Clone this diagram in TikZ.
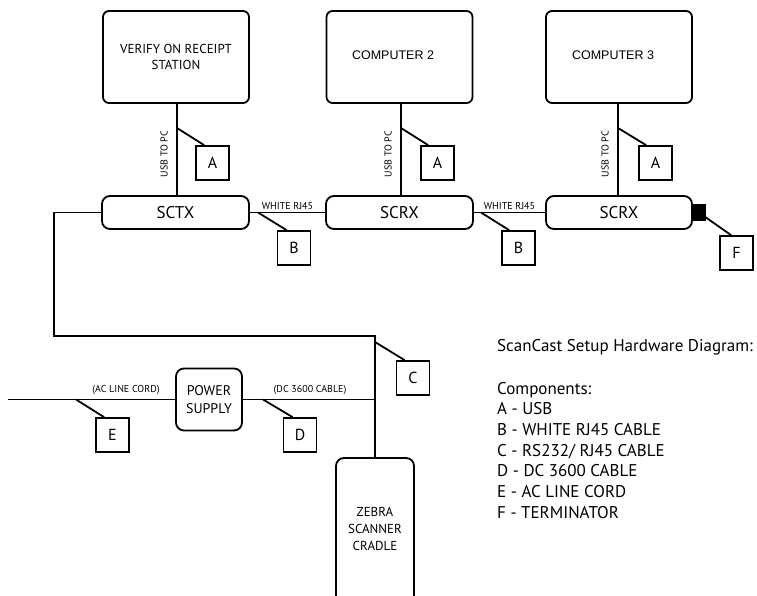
\documentclass[tikz,border=0pt]{standalone}
\usepackage{fontspec}
\setmainfont{PT Sans}
\newfontfamily\arialf{Liberation Sans}
\usetikzlibrary{calc}
\tikzset{
  ln/.style={line width=1.8pt, black},
  pcbox/.style={draw, line width=1.8pt, rounded corners=6pt, minimum width=146pt, minimum height=92pt, inner sep=0pt, align=center},
  scbox/.style={draw, line width=1.8pt, rounded corners=8pt, minimum width=147pt, minimum height=33pt, inner sep=0pt, font=\fontsize{17}{20}\selectfont},
  tagbox/.style={draw, line width=1.6pt, minimum width=33pt, minimum height=34pt, inner sep=0pt, font=\fontsize{16}{18}\selectfont},
  cable/.style={font=\fontsize{10}{12}\selectfont, inner sep=1pt},
  usb/.style={font=\fontsize{10}{12}\selectfont, rotate=90, inner sep=0pt},
  legend/.style={font=\fontsize{17}{20}\selectfont, anchor=base west, inner sep=0pt},
}
\begin{document}
\begin{tikzpicture}[x=1pt,y=-1pt]
\clip (0,0) rectangle (757,595);
\fill[white] (0,0) rectangle (757,595);
% computers
\node[pcbox, font=\fontsize{13}{16}\selectfont] (pc1) at (176,57) {VERIFY ON RECEIPT\\STATION};
\node[pcbox] (pc2) at (399.5,57) {};
\node[font=\arialf\fontsize{12.5}{14}\selectfont] (pc2t) at (393,55) {COMPUTER 2};
\node[pcbox] (pc3) at (619,57) {};
\node[font=\arialf\fontsize{12.5}{14}\selectfont] (pc3t) at (613,55) {COMPUTER 3};
% SC units
\node[scbox] (sctx) at (175.5,212.5) {SCTX};
\node[scbox] (scrx1) at (399.5,212.5) {SCRX};
\node[scbox, minimum width=146pt] (scrx2) at (619,212.5) {SCRX};
\node[fill=black, draw=black, minimum width=14pt, minimum height=16pt, inner sep=0pt] (term) at (698,212) {};
% tag boxes
\node[tagbox] (A1) at (212.5,163) {A};
\node[tagbox] (A2) at (437.5,163) {A};
\node[tagbox] (A3) at (655.5,163) {A};
\node[tagbox] (B1) at (294,248) {B};
\node[tagbox] (B2) at (518.5,248) {B};
\node[tagbox] (F) at (736.5,253) {F};
\node[tagbox] (C) at (413,378) {C};
\node[tagbox] (E) at (112.5,435) {E};
\node[tagbox] (D) at (300,435) {D};
% power supply and cradle
\node[draw, line width=1.8pt, rounded corners=8pt, minimum width=66pt, minimum height=62pt, inner sep=0pt, align=center, font=\fontsize{14}{18}\selectfont] (ps) at (209,399.5) {POWER\\SUPPLY};
\node[draw, line width=1.8pt, rounded corners=8pt, minimum width=78pt, minimum height=160pt, inner sep=0pt,
  label={[align=center, font=\fontsize{13}{17}\selectfont, yshift=9pt]center:ZEBRA\\SCANNER\\CRADLE}] (cradle) at (375,538) {};
% vertical USB lines
\draw[ln] (pc1.south -| 177,0) -- (sctx.north -| 177,0);
\draw[ln] (pc2.south -| 401,0) -- (scrx1.north -| 401,0);
\draw[ln] (pc3.south -| 618,0) -- (scrx2.north -| 618,0);
\node[usb] (u1) at (164,154) {USB TO PC};
\node[usb] (u2) at (388,154) {USB TO PC};
\node[usb] (u3) at (605,154) {USB TO PC};
\coordinate (ta1) at (177,128);
\coordinate (ta2) at (401,128);
\coordinate (ta3) at (618,128);
\draw[ln] (ta1) -- ($(A1.north west)+(9,0)$);
\draw[ln] (ta2) -- ($(A2.north west)+(8,0)$);
\draw[ln] (ta3) -- ($(A3.north west)+(8,0)$);
% RJ45 links
\draw[ln] (sctx.east) -- node[cable, anchor=south, yshift=1pt] (w1) {WHITE RJ45} (scrx1.west);
\draw[ln] (scrx1.east) -- node[cable, anchor=south, yshift=1pt] (w2) {WHITE RJ45} (scrx2.west);
\coordinate (tb1) at (258,212.5);
\coordinate (tb2) at (481,212.5);
\draw[ln] (tb1) -- ($(B1.north west)+(10,0)$);
\draw[ln] (tb2) -- ($(B2.north west)+(8,0)$);
\draw[ln] ($(term.east)+(0,5)$) -- ($(F.north west)+(12,0)$);
% serial line to cradle
\coordinate (bend) at (54,336);
\draw[ln] (sctx.west) -| (bend) -| (cradle.north);
\coordinate (tc) at (375,342);
\draw[ln] (tc) -- ($(C.north west)+(9,0)$);
% power
\coordinate (acend) at (8,399.5);
\coordinate (junc) at (375,399.5);
\draw[ln] (acend) -- (ps.west);
\draw[ln] (ps.east) -- (junc);
\node[cable, anchor=south] (acl) at (126,396) {(AC LINE CORD)};
\node[cable, anchor=south] (dcl) at (310,396) {(DC 3600 CABLE)};
\coordinate (te) at (76,399.5);
\coordinate (td) at (263,399.5);
\draw[ln] (te) -- ($(E.north west)+(9,0)$);
\draw[ln] (td) -- ($(D.north west)+(10,0)$);
% legend
\node[legend] (l0) at (497,351) {ScanCast Setup Hardware Diagram:};
\node[legend] (l1) at (497,394) {Components:};
\node[legend] (l2) at (497,414) {A - USB};
\node[legend] (l3) at (497,435) {B - WHITE RJ45 CABLE};
\node[legend] (l4) at (497,456) {C - RS232/ RJ45 CABLE};
\node[legend] (l5) at (497,476.5) {D - DC 3600 CABLE};
\node[legend] (l6) at (497,497) {E - AC LINE CORD};
\node[legend] (l7) at (497,518) {F - TERMINATOR};
\end{tikzpicture}
\end{document}
